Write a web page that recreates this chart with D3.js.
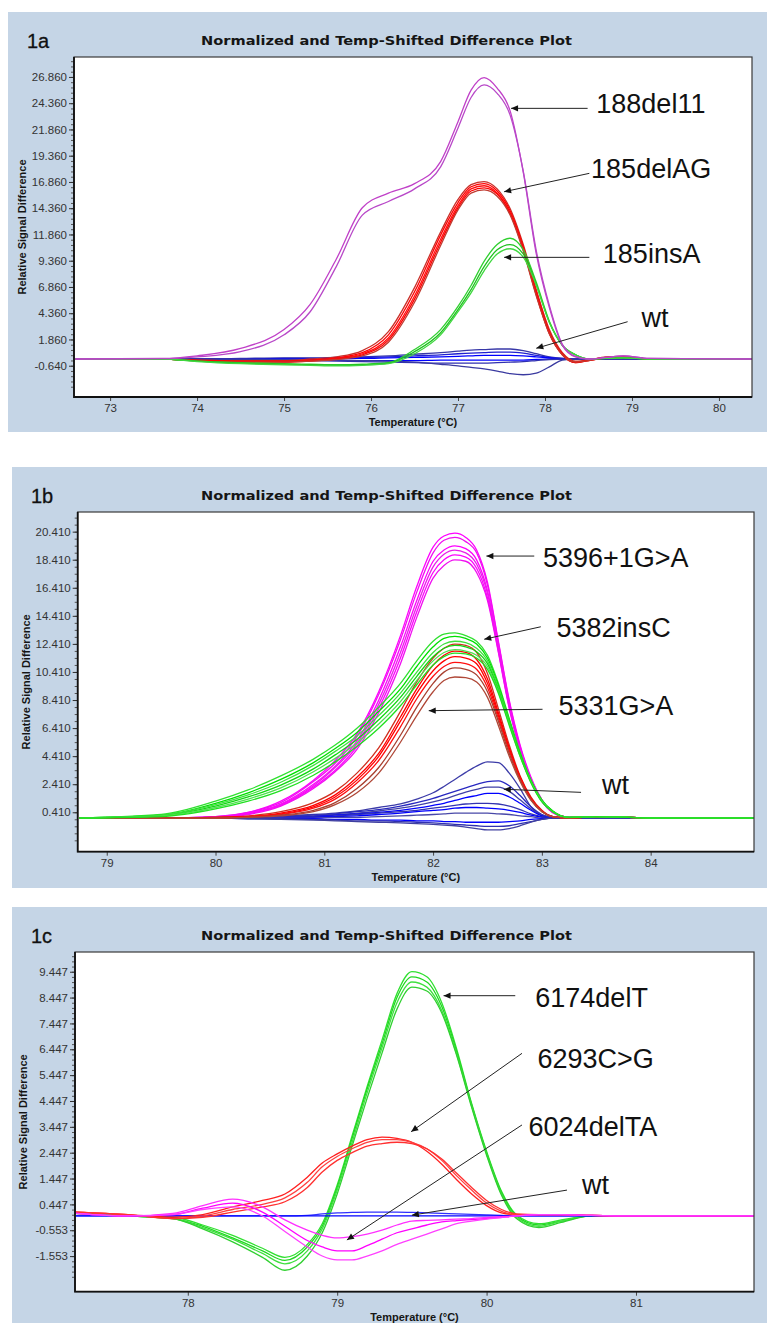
<!DOCTYPE html>
<html>
<head>
<meta charset="utf-8">
<script src="https://cdn.jsdelivr.net/npm/d3@7"></script>
<style>
  body { margin: 0; background: #fff; }
  svg { display: block; }
  text { font-family: "Liberation Sans", Arial, sans-serif; }
</style>
</head>
<body>
<svg id="fig" width="767" height="1323"></svg>
<script>
// ---- panel 1a : temperature grid + runs ----
const temps1a = [72.6, 73.6, 74.0, 74.5, 75.0, 75.3, 75.6, 75.9, 76.2, 76.5, 76.8, 77.0, 77.15, 77.3, 77.45, 77.6, 77.75, 77.9, 78.05, 78.2, 78.35, 78.5, 78.7, 78.9, 79.2, 80.4]
const xTicks1a = [73, 74, 75, 76, 77, 78, 79, 80]
const yTicks1a = [-0.64, 1.86, 4.36, 6.86, 9.36, 11.86, 14.36, 16.86, 19.36, 21.86, 24.36, 26.86]
const blue1a = [
  [0, 0, 0, 0.05, 0.1, 0.1, 0.15, 0.2, 0.3, 0.45, 0.6, 0.75, 0.85, 0.9, 0.95, 0.95, 0.8, 0.5, 0.2, 0.05, 0, 0, 0, 0, 0, 0],
  [0, 0, 0, 0, 0.05, 0.05, 0.1, 0.15, 0.2, 0.3, 0.4, 0.5, 0.55, 0.6, 0.65, 0.65, 0.55, 0.35, 0.15, 0.05, 0, 0, 0, 0, 0, 0],
  [0, 0, 0, 0, 0, 0, 0.05, 0.05, 0.1, 0.15, 0.2, 0.25, 0.3, 0.35, 0.35, 0.35, 0.3, 0.2, 0.1, 0, 0, 0, 0, 0, 0, 0],
  [0, 0, 0, -0.05, -0.1, -0.1, -0.1, -0.15, -0.15, -0.15, -0.1, -0.1, -0.1, -0.1, -0.1, -0.1, -0.1, -0.05, 0, 0, 0, 0, 0, 0, 0, 0],
  [0, 0, 0, -0.05, -0.1, -0.15, -0.2, -0.25, -0.3, -0.35, -0.4, -0.4, -0.4, -0.4, -0.35, -0.3, -0.25, -0.15, -0.05, 0, 0, 0, 0, 0, 0, 0],
  [0, 0, 0, 0, -0.05, -0.05, -0.1, -0.15, -0.2, -0.3, -0.5, -0.65, -0.8, -0.95, -1.15, -1.4, -1.5, -1.35, -0.75, -0.1, 0, 0, 0, 0, 0, 0]
]
const red1a = [
  [0, 0, -0.1, -0.15, -0.15, 0, 0.2, 0.8, 2.6, 6.8, 12.1, 15.2, 16.6, 16.9, 16.2, 14.3, 10.9, 6.6, 2.8, 0.6, -0.2, -0.1, 0.2, 0.25, 0, 0],
  [0, 0, -0.1, -0.2, -0.2, -0.1, 0.1, 0.6, 2.3, 6.4, 11.8, 14.9, 16.4, 16.7, 16.0, 14.1, 10.7, 6.4, 2.6, 0.5, -0.3, -0.1, 0.15, 0.2, 0, 0],
  [0, 0, -0.15, -0.25, -0.25, -0.15, 0.05, 0.5, 2.0, 6.0, 11.4, 14.6, 16.2, 16.5, 15.8, 13.9, 10.5, 6.2, 2.5, 0.4, -0.35, -0.15, 0.1, 0.2, 0, 0],
  [0, 0, -0.15, -0.3, -0.3, -0.2, 0, 0.4, 1.8, 5.7, 11.1, 14.4, 16.0, 16.3, 15.7, 13.8, 10.4, 6.1, 2.4, 0.4, -0.35, -0.15, 0.1, 0.15, 0, 0],
  [0, 0, -0.2, -0.3, -0.3, -0.2, -0.05, 0.3, 1.6, 5.4, 10.8, 14.2, 15.8, 16.1, 15.5, 13.7, 10.3, 6.0, 2.4, 0.4, -0.3, -0.15, 0.1, 0.15, 0, 0]
]
const green1a = [
  [0, 0, -0.2, -0.35, -0.45, -0.5, -0.55, -0.5, -0.35, 0.9, 2.8, 5.0, 7.0, 9.3, 10.9, 11.5, 10.4, 7.3, 3.6, 1.3, 0.4, 0.0, 0.05, 0.1, 0, 0],
  [0, 0, -0.2, -0.4, -0.5, -0.55, -0.6, -0.55, -0.4, 0.7, 2.5, 4.7, 6.6, 8.8, 10.4, 10.9, 10.0, 7.1, 3.5, 1.3, 0.4, 0.0, 0.05, 0.1, 0, 0],
  [0, 0, -0.25, -0.45, -0.55, -0.6, -0.65, -0.6, -0.45, 0.5, 2.3, 4.5, 6.3, 8.4, 10.0, 10.5, 9.7, 7.0, 3.5, 1.3, 0.4, 0.0, 0.05, 0.1, 0, 0]
]
const magenta1a = [
  [0, 0.05, 0.3, 1.0, 2.8, 5.2, 9.5, 14.4, 15.8, 16.7, 18.8, 22.6, 25.6, 26.8, 25.8, 23.6, 17.8, 10.0, 4.9, 1.3, 0.2, 0.0, 0.15, 0.3, 0.05, 0],
  [0, 0.03, 0.2, 0.7, 2.3, 4.5, 8.8, 13.7, 15.0, 16.2, 18.3, 22.0, 24.9, 26.1, 25.3, 23.2, 17.9, 10.3, 5.1, 1.4, 0.25, 0.0, 0.15, 0.3, 0.05, 0]
]
const labels1a = ['188del11', '185delAG', '185insA', 'wt']

// ---- panel 1b ----
const temps1b = [78.75, 79.5, 80.0, 80.3, 80.6, 80.9, 81.1, 81.3, 81.5, 81.7, 81.85, 82.0, 82.1, 82.2, 82.3, 82.4, 82.5, 82.6, 82.7, 82.8, 82.9, 83.0, 83.1, 83.25, 83.5, 83.8, 84.2, 84.95]
const xTicks1b = [79, 80, 81, 82, 83, 84]
const yTicks1b = [0.41, 2.41, 4.41, 6.41, 8.41, 10.41, 12.41, 14.41, 16.41, 18.41, 20.41]
const blue1b = [
  [0, 0, 0.05, 0.1, 0.15, 0.25, 0.35, 0.5, 0.75, 1.0, 1.35, 1.8, 2.25, 2.75, 3.25, 3.7, 4.0, 3.95, 3.2, 2.1, 0.8, 0.2, 0, 0, 0, 0, 0, 0],
  [0, 0, 0, 0.05, 0.1, 0.2, 0.3, 0.45, 0.6, 0.85, 1.1, 1.4, 1.65, 1.9, 2.15, 2.4, 2.6, 2.65, 2.3, 1.6, 0.8, 0.25, 0.05, 0, 0, 0, 0, 0],
  [0, 0, 0, 0.05, 0.1, 0.15, 0.25, 0.35, 0.5, 0.7, 0.9, 1.15, 1.35, 1.6, 1.85, 2.05, 2.2, 2.2, 1.9, 1.3, 0.65, 0.2, 0.05, 0, 0, 0, 0, 0],
  [0, 0, 0, 0, 0.05, 0.1, 0.2, 0.3, 0.4, 0.55, 0.7, 0.9, 1.05, 1.25, 1.45, 1.6, 1.75, 1.75, 1.5, 1.05, 0.55, 0.15, 0, 0, 0, 0, 0, 0],
  [0, 0, 0, 0, 0.05, 0.1, 0.15, 0.25, 0.35, 0.45, 0.55, 0.7, 0.8, 0.9, 1.0, 1.05, 1.05, 1.0, 0.85, 0.6, 0.3, 0.1, 0, 0, 0, 0, 0, 0],
  [0, 0, 0, 0, 0, 0.05, 0.1, 0.15, 0.25, 0.35, 0.45, 0.55, 0.6, 0.7, 0.75, 0.75, 0.7, 0.65, 0.55, 0.4, 0.2, 0.05, 0, 0, 0, 0, 0, 0],
  [0, 0, 0, 0, 0, 0, 0.05, 0.05, 0.1, 0.15, 0.2, 0.25, 0.3, 0.35, 0.35, 0.35, 0.35, 0.3, 0.25, 0.15, 0.1, 0, 0, 0, 0, 0, 0, 0],
  [0, 0, 0, 0, -0.05, -0.05, -0.1, -0.1, -0.15, -0.15, -0.2, -0.2, -0.25, -0.25, -0.3, -0.3, -0.3, -0.3, -0.25, -0.2, -0.1, -0.05, 0, 0, 0, 0, 0, 0],
  [0, 0, 0, -0.05, -0.05, -0.1, -0.15, -0.2, -0.2, -0.25, -0.3, -0.35, -0.4, -0.45, -0.5, -0.55, -0.6, -0.6, -0.55, -0.4, -0.25, -0.1, 0, 0, 0, 0, 0, 0],
  [0, 0, 0, -0.05, -0.1, -0.15, -0.2, -0.25, -0.3, -0.35, -0.4, -0.45, -0.5, -0.55, -0.65, -0.75, -0.85, -0.85, -0.75, -0.55, -0.3, -0.1, 0, 0, 0, 0, 0, 0]
]
const red1b = [
  [0, 0, 0.05, 0.15, 0.45, 1.1, 1.9, 3.2, 5.0, 7.6, 9.7, 11.4, 12.1, 12.4, 12.3, 11.8, 10.3, 7.8, 5.2, 3.0, 1.5, 0.55, 0.1, 0, 0.1, 0.05, 0, 0],
  [0, 0, 0.05, 0.1, 0.35, 0.9, 1.65, 2.9, 4.6, 7.2, 9.2, 10.9, 11.6, 11.9, 11.8, 11.3, 9.9, 7.5, 5.0, 2.9, 1.4, 0.5, 0.1, 0, 0.1, 0.05, 0, 0],
  [0, 0, 0, 0.1, 0.3, 0.8, 1.5, 2.7, 4.4, 6.9, 8.9, 10.5, 11.2, 11.5, 11.4, 11.0, 9.6, 7.3, 4.9, 2.9, 1.4, 0.5, 0.1, 0, 0.1, 0.05, 0, 0],
  [0, 0, 0, 0.1, 0.25, 0.7, 1.35, 2.5, 4.1, 6.5, 8.5, 10.1, 10.8, 11.1, 11.0, 10.6, 9.3, 7.1, 4.8, 2.8, 1.35, 0.5, 0.1, 0, 0.1, 0.05, 0, 0],
  [0, 0, 0, 0.05, 0.2, 0.55, 1.1, 2.1, 3.6, 5.9, 7.9, 9.6, 10.4, 10.7, 10.6, 10.2, 9.0, 6.9, 4.6, 2.7, 1.3, 0.45, 0.1, 0, 0.1, 0.05, 0, 0],
  [0, 0, 0, 0.05, 0.15, 0.45, 0.95, 1.8, 3.2, 5.4, 7.3, 9.0, 9.8, 10.05, 10.0, 9.7, 8.6, 6.6, 4.4, 2.6, 1.25, 0.45, 0.1, 0, 0.1, 0.05, 0, 0]
]
const green1b = [
  [0, 0.25, 1.2, 2.0, 3.0, 4.2, 5.2, 6.4, 7.9, 9.6, 11.2, 12.6, 13.1, 13.2, 13.0, 12.6, 11.6, 9.6, 7.1, 4.7, 2.7, 1.3, 0.5, 0.05, 0.1, 0.05, 0, 0],
  [0, 0.2, 1.05, 1.8, 2.75, 3.95, 4.95, 6.1, 7.6, 9.2, 10.8, 12.2, 12.8, 12.95, 12.8, 12.4, 11.4, 9.45, 7.0, 4.6, 2.65, 1.25, 0.5, 0.05, 0.1, 0.05, 0, 0],
  [0, 0.2, 0.95, 1.65, 2.55, 3.75, 4.75, 5.85, 7.3, 8.9, 10.4, 11.8, 12.4, 12.6, 12.5, 12.1, 11.2, 9.3, 6.9, 4.5, 2.6, 1.2, 0.45, 0.05, 0.1, 0.05, 0, 0],
  [0, 0.15, 0.85, 1.5, 2.35, 3.5, 4.5, 5.6, 7.0, 8.6, 10.1, 11.5, 12.1, 12.3, 12.2, 11.85, 11.0, 9.1, 6.8, 4.5, 2.6, 1.2, 0.45, 0.05, 0.1, 0.05, 0, 0],
  [0, 0.15, 0.75, 1.35, 2.15, 3.3, 4.25, 5.35, 6.7, 8.3, 9.8, 11.2, 11.8, 12.0, 11.9, 11.6, 10.8, 9.0, 6.7, 4.4, 2.55, 1.2, 0.45, 0.05, 0.1, 0.05, 0, 0],
  [0, 0.1, 0.65, 1.2, 1.95, 3.05, 4.0, 5.1, 6.4, 8.0, 9.5, 10.9, 11.5, 11.75, 11.7, 11.4, 10.6, 8.9, 6.6, 4.4, 2.5, 1.15, 0.45, 0.05, 0.1, 0.05, 0, 0]
]
const magenta1b = [
  [0, 0, 0.1, 0.4, 1.2, 2.7, 4.1, 6.0, 9.0, 13.0, 16.5, 19.3, 20.1, 20.3, 20.0, 19.1, 16.8, 12.6, 8.4, 5.2, 2.9, 1.3, 0.4, 0.05, 0.1, 0.05, 0, 0],
  [0, 0, 0.1, 0.4, 1.1, 2.6, 3.9, 5.8, 8.8, 12.7, 16.1, 18.9, 19.8, 20.0, 19.7, 18.9, 16.6, 12.5, 8.3, 5.1, 2.8, 1.3, 0.4, 0.05, 0.1, 0.05, 0, 0],
  [0, 0, 0.05, 0.35, 1.0, 2.4, 3.7, 5.5, 8.4, 12.2, 15.5, 18.3, 19.1, 19.4, 19.2, 18.4, 16.2, 12.2, 8.1, 5.0, 2.8, 1.3, 0.4, 0.05, 0.1, 0.05, 0, 0],
  [0, 0, 0.05, 0.3, 0.95, 2.3, 3.6, 5.3, 8.1, 11.8, 15.1, 17.9, 18.8, 19.1, 18.9, 18.1, 16.0, 12.1, 8.0, 4.9, 2.7, 1.2, 0.4, 0.05, 0.1, 0.05, 0, 0],
  [0, 0, 0.05, 0.3, 0.9, 2.2, 3.4, 5.1, 7.8, 11.4, 14.7, 17.5, 18.4, 18.75, 18.6, 17.8, 15.7, 11.9, 7.9, 4.9, 2.7, 1.2, 0.4, 0.05, 0.1, 0.05, 0, 0],
  [0, 0, 0.05, 0.25, 0.85, 2.1, 3.3, 4.9, 7.5, 11.0, 14.3, 17.1, 18.0, 18.4, 18.3, 17.5, 15.5, 11.8, 7.8, 4.8, 2.7, 1.2, 0.4, 0.05, 0.1, 0.05, 0, 0]
]
const labels1b = ['5396+1G>A', '5382insC', '5331G>A', 'wt']

// ---- panel 1c ----
const temps1c = [77.25, 77.6, 77.9, 78.1, 78.3, 78.5, 78.65, 78.8, 78.9, 79.0, 79.1, 79.2, 79.3, 79.4, 79.5, 79.6, 79.7, 79.8, 79.9, 80.0, 80.1, 80.2, 80.35, 80.5, 80.7, 81.0, 81.3, 81.8]
const xTicks1c = [78, 79, 80, 81]
const yTicks1c = [-1.553, -0.553, 0.447, 1.447, 2.447, 3.447, 4.447, 5.447, 6.447, 7.447, 8.447, 9.447]
const blue1c = [
  [0, 0, 0, 0, 0, 0, 0, 0.02, 0.08, 0.12, 0.14, 0.15, 0.15, 0.15, 0.14, 0.12, 0.1, 0.08, 0.06, 0.04, 0.02, 0, 0, 0, 0, 0, 0, 0],
  [0, 0, 0, 0, 0, 0, 0, 0, 0, 0, 0, 0, 0, 0, 0, 0, 0, 0, 0, 0, 0, 0, 0, 0, 0, 0, 0, 0]
]
const green1c = [
  [0.1, 0.0, -0.05, -0.35, -0.75, -1.25, -1.6, -1.1, -0.3, 1.2, 3.1, 5.0, 6.8, 8.6, 9.45, 9.25, 8.25, 6.45, 4.35, 2.5, 0.95, 0.05, -0.3, -0.15, 0, 0, 0, 0],
  [0.1, 0.0, -0.1, -0.4, -0.85, -1.35, -1.72, -1.2, -0.4, 1.1, 3.0, 4.9, 6.65, 8.45, 9.25, 9.05, 8.1, 6.35, 4.3, 2.45, 0.9, 0.0, -0.35, -0.2, 0, 0, 0, 0],
  [0.1, 0.0, -0.1, -0.45, -0.9, -1.45, -1.85, -1.35, -0.5, 1.0, 2.85, 4.75, 6.5, 8.25, 9.05, 8.85, 7.95, 6.25, 4.25, 2.4, 0.85, -0.05, -0.4, -0.2, 0, 0, 0, 0],
  [0.1, 0.0, -0.1, -0.5, -1.0, -1.6, -2.1, -1.55, -0.65, 0.85, 2.7, 4.55, 6.3, 8.0, 8.85, 8.7, 7.85, 6.2, 4.2, 2.35, 0.8, -0.1, -0.45, -0.25, 0, 0, 0, 0]
]
const magenta1c = [
  [0.1, 0.0, 0.1, 0.4, 0.65, 0.35, -0.15, -0.55, -0.75, -0.85, -0.8, -0.7, -0.55, -0.35, -0.2, -0.17, -0.15, -0.12, -0.1, -0.06, -0.03, 0, 0.05, 0.05, 0.02, 0, 0, 0],
  [0.1, 0.0, 0.05, 0.3, 0.5, 0.15, -0.4, -0.95, -1.2, -1.35, -1.35, -1.15, -0.9, -0.65, -0.5, -0.35, -0.23, -0.18, -0.14, -0.1, -0.05, 0, 0.05, 0.05, 0.02, 0, 0, 0],
  [0.1, 0.0, 0.05, 0.25, 0.35, 0.0, -0.6, -1.2, -1.55, -1.7, -1.7, -1.55, -1.35, -1.1, -0.9, -0.7, -0.5, -0.3, -0.2, -0.12, -0.06, 0, 0.05, 0.05, 0.02, 0, 0, 0]
]
const red1c = [
  [0.15, 0.05, -0.05, 0.05, 0.35, 0.6, 0.85, 1.5, 2.05, 2.4, 2.7, 2.95, 3.05, 3.0, 2.85, 2.5, 2.0, 1.4, 0.85, 0.4, 0.12, 0.05, 0.05, 0.05, 0.02, 0, 0, 0],
  [0.15, 0.05, -0.1, 0.0, 0.25, 0.45, 0.7, 1.3, 1.9, 2.3, 2.6, 2.85, 2.95, 2.95, 2.85, 2.6, 2.15, 1.55, 1.0, 0.5, 0.18, 0.05, 0.05, 0.05, 0.02, 0, 0, 0],
  [0.15, 0.05, -0.1, -0.05, 0.15, 0.35, 0.55, 1.1, 1.7, 2.15, 2.45, 2.7, 2.8, 2.85, 2.8, 2.6, 2.2, 1.65, 1.1, 0.6, 0.25, 0.08, 0.05, 0.05, 0.02, 0, 0, 0]
]
const labels1c = ['6174delT', '6293C>G', '6024delTA', 'wt']

const title = 'Normalized and Temp-Shifted Difference Plot'

// ---- layout ----
const panels = [
  {
    tag: '1a', bg: [8, 12, 767, 432], box: { l: 74, t: 57, r: 752, b: 397 },
    xDomain: [72.585, 80.38], yDomain: [-3.62, 28.76], minor: 0.5,
    temps: temps1a, xTicks: xTicks1a, yTicks: yTicks1a, labels: labels1a,
    groups: [
      { runs: blue1a, colors: ['#3838a8', '#2020d0', '#0000ff', '#0000ff', '#3030b0', '#3a3aa0'] },
      { runs: red1a, colors: ['#c8302a', '#ff0000', '#ff1010', '#ff0000', '#c03a30'] },
      { runs: green1a, colors: ['#30d030', '#20c020', '#40d840'] },
      { runs: magenta1a, colors: ['#c040c8', '#b848c8'] }
    ],
    // arrows in data units: tail, head, label anchor
    arrows: [
      [[78.49, 23.87], [77.61, 23.87], [78.59, 23.4]],
      [[78.51, 17.68], [77.53, 15.93], [78.53, 17.24]],
      [[78.51, 9.68], [77.53, 9.68], [78.665, 9.11]],
      [[78.95, 3.55], [77.9, 1.02], [79.11, 3.07]]
    ]
  },
  {
    tag: '1b', bg: [12, 467, 767, 888], box: { l: 77.7, t: 512, r: 754, b: 851.7 },
    xDomain: [78.733, 84.95], yDomain: [-2.4, 21.81], minor: 0.5,
    temps: temps1b, xTicks: xTicks1b, yTicks: yTicks1b, labels: labels1b,
    groups: [
      { runs: blue1b, colors: ['#3c3ca8', '#2828c0', '#4040a8', '#0000ff', '#3434b0', '#0000ff', '#4848a8', '#0000ff', '#3030b0', '#4040a0'] },
      { runs: magenta1b, colors: ['#ff00ff', '#f010f0', '#ff00ff', '#e820e8', '#ff00ff', '#f010f0'] },
      { runs: red1b, colors: ['#d03020', '#ff0000', '#ff0000', '#ff1010', '#a84030', '#b04838'] },
      { runs: green1b, colors: ['#30e030', '#00e000', '#40e040', '#10d810', '#50e050', '#20e020'] }
    ],
    arrows: [
      [[82.93, 18.67], [82.49, 18.67], [83.01, 17.91]],
      [[82.99, 13.63], [82.47, 12.74], [83.135, 12.92]],
      [[83.006, 7.75], [81.96, 7.65], [83.153, 7.34]],
      [[83.36, 1.83], [82.65, 2.05], [83.552, 1.69]]
    ]
  },
  {
    tag: '1c', bg: [12, 907, 767, 1323], box: { l: 75, t: 952, r: 754, b: 1291.7 },
    xDomain: [77.245, 81.79], yDomain: [-2.93, 10.21], minor: 0.2,
    temps: temps1c, xTicks: xTicks1c, yTicks: yTicks1c, labels: labels1c,
    groups: [
      { runs: green1c, colors: ['#30e030', '#20d820', '#40e040', '#30d030'] },
      { runs: blue1c, colors: ['#3030ff', '#0000ff'] },
      { runs: red1c, colors: ['#ff2020', '#ff4040', '#ff3030'] },
      { runs: magenta1c, colors: ['#ff30ff', '#ff00ff', '#ff40ff'] }
    ],
    arrows: [
      [[80.192, 8.52], [79.712, 8.52], [80.326, 8.09]],
      [[80.237, 6.29], [79.495, 3.26], [80.341, 5.71]],
      [[80.237, 3.52], [79.065, -0.93], [80.281, 3.09]],
      [[80.538, 1.0], [79.5, 0.03], [80.639, 0.85]]
    ]
  }
]

const svg = d3.select('#fig')

svg.append('defs')
  .append('marker')
  .attr('id', 'head')
  .attr('viewBox', '0 0 10 10')
  .attr('refX', 10)
  .attr('refY', 5)
  .attr('markerWidth', 9)
  .attr('markerHeight', 7)
  .attr('markerUnits', 'userSpaceOnUse')
  .attr('orient', 'auto')
  .append('path')
  .attr('d', 'M0,0.5 L10,5 L0,9.5 z')
  .attr('fill', '#111')

panels.forEach((p, pi) => {
  const { l, t, r, b } = p.box
  const g = svg.append('g')

  g.append('rect')
    .attr('x', p.bg[0]).attr('y', p.bg[1])
    .attr('width', p.bg[2] - p.bg[0]).attr('height', p.bg[3] - p.bg[1])
    .attr('fill', '#c5d5e6')

  g.append('rect')
    .attr('x', l).attr('y', t)
    .attr('width', r - l).attr('height', b - t)
    .attr('fill', '#fff')

  const x = d3.scaleLinear().domain(p.xDomain).range([l, r])
  const y = d3.scaleLinear().domain(p.yDomain).range([b, t])

  // panel tag and title
  g.append('text')
    .attr('x', p.bg[0] + 19).attr('y', t - 9)
    .attr('font-size', 20)
    .attr('fill', '#111')
    .attr('stroke', '#111')
    .attr('stroke-width', 0.3)
    .text(p.tag)

  g.append('text')
    .attr('x', 201).attr('y', t - 12)
    .attr('textLength', 371)
    .attr('lengthAdjust', 'spacingAndGlyphs')
    .style('font-family', '"DejaVu Sans", Verdana, sans-serif')
    .attr('font-weight', 'bold')
    .attr('font-size', 12.5)
    .attr('fill', '#151515')
    .text(title)

  // curves
  const clipId = 'clip' + pi
  g.append('clipPath').attr('id', clipId)
    .append('rect')
    .attr('x', l).attr('y', t)
    .attr('width', r - l).attr('height', b - t)

  const line = d3.line()
    .x((d, i) => x(p.temps[i]))
    .y(d => y(d))
    .curve(d3.curveMonotoneX)

  const plot = g.append('g').attr('clip-path', `url(#${clipId})`)
  p.groups.forEach(grp => {
    plot.selectAll(null)
      .data(grp.runs)
      .enter()
      .append('path')
      .attr('d', line)
      .attr('fill', 'none')
      .attr('stroke', (d, i) => grp.colors[i % grp.colors.length])
      .attr('stroke-width', 1.3)
  })

  // axes
  const fmt = d => d.toFixed(3)
  const yMinor = d3.range(p.yTicks[0] - 4 * p.minor, p.yDomain[1], p.minor)
    .filter(v => v > p.yDomain[0] && v < p.yDomain[1])

  g.append('g')
    .attr('transform', `translate(${l},0)`)
    .call(d3.axisLeft(y).tickValues(yMinor).tickSize(3).tickFormat(''))
    .call(a => a.select('.domain').remove())
    .call(a => a.selectAll('line').attr('stroke', '#555'))

  g.append('g')
    .attr('transform', `translate(${l},0)`)
    .call(d3.axisLeft(y).tickValues(p.yTicks).tickSize(5).tickPadding(2).tickFormat(fmt))
    .call(a => a.select('.domain').remove())
    .call(a => a.selectAll('line').attr('stroke', '#333'))
    .call(a => a.selectAll('text')
      .attr('font-size', 11.5)
      .attr('fill', '#333')
      .style('font-family', '"Liberation Sans", Arial, sans-serif'))

  g.append('g')
    .attr('transform', `translate(0,${b})`)
    .call(d3.axisBottom(x).tickValues(p.xTicks).tickSize(4).tickPadding(3).tickFormat(d3.format('d')))
    .call(a => a.select('.domain').remove())
    .call(a => a.selectAll('line').attr('stroke', '#444'))
    .call(a => a.selectAll('text')
      .attr('font-size', 11.5)
      .attr('fill', '#333')
      .style('font-family', '"Liberation Sans", Arial, sans-serif'))

  // frame
  g.append('rect')
    .attr('x', l).attr('y', t)
    .attr('width', r - l).attr('height', b - t)
    .attr('fill', 'none')
    .attr('stroke', '#3a3a3a')
    .attr('stroke-width', 1.2)
  g.append('path')
    .attr('d', `M${l},${t}V${b}H${r}`)
    .attr('fill', 'none')
    .attr('stroke', '#111')
    .attr('stroke-width', 1.8)

  // axis titles
  g.append('text')
    .attr('x', (l + r) / 2).attr('y', b + 29)
    .attr('text-anchor', 'middle')
    .attr('font-size', 11)
    .attr('font-weight', 'bold')
    .attr('fill', '#151515')
    .text('Temperature (°C)')

  g.append('text')
    .attr('transform', `translate(${l - 48},${(t + b) / 2}) rotate(-90)`)
    .attr('text-anchor', 'middle')
    .attr('font-size', 11)
    .attr('font-weight', 'bold')
    .attr('fill', '#151515')
    .text('Relative Signal Difference')

  // annotations
  p.arrows.forEach((a, i) => {
    g.append('line')
      .attr('x1', x(a[0][0])).attr('y1', y(a[0][1]))
      .attr('x2', x(a[1][0])).attr('y2', y(a[1][1]))
      .attr('stroke', '#222')
      .attr('stroke-width', 1)
      .attr('marker-end', 'url(#head)')
    g.append('text')
      .attr('x', x(a[2][0])).attr('y', y(a[2][1]))
      .attr('font-size', 27)
      .attr('fill', '#111')
      .text(p.labels[i])
  })
})
</script>
</body>
</html>
